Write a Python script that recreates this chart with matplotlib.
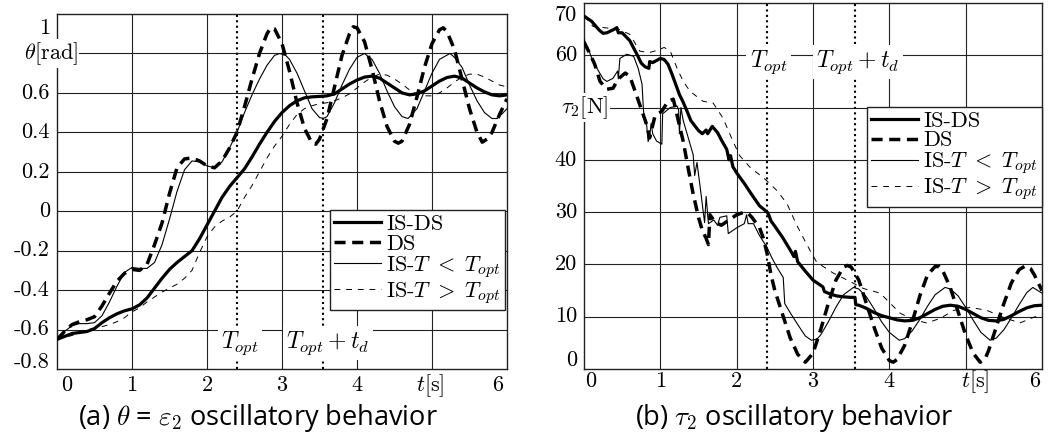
import matplotlib
matplotlib.use("Agg")
import matplotlib.pyplot as plt
import numpy as np

plt.rcParams['font.family'] = ['cmr10', 'DejaVu Serif']
plt.rcParams['mathtext.fontset'] = 'cm'
plt.rcParams['axes.unicode_minus'] = False

# ---------- (a) theta data ----------
t_isds_a = [0, 0.1, 0.2, 0.3, 0.4, 0.5, 0.6, 0.7, 0.8, 0.9, 1.0, 1.1, 1.2, 1.3, 1.4, 1.5, 1.6, 1.7, 1.8, 1.9,
            2.0, 2.1, 2.2, 2.3, 2.4, 2.5, 2.6, 2.7, 2.8, 2.9, 3.0, 3.1, 3.2, 3.3, 3.4, 3.5, 3.6, 3.7, 3.8, 3.9,
            4.0, 4.1, 4.2, 4.3, 4.4, 4.5, 4.6, 4.7, 4.8, 4.9, 5.0, 5.1, 5.2, 5.3, 5.4, 5.5, 5.6, 5.7, 5.8, 5.9, 6.0]
th_isds = [-0.65, -0.635, -0.62, -0.615, -0.61, -0.595, -0.565, -0.54, -0.52, -0.505, -0.495, -0.475, -0.44,
           -0.39, -0.34, -0.295, -0.26, -0.23, -0.2, -0.14, -0.07, 0.0, 0.07, 0.125, 0.17, 0.215, 0.275, 0.34,
           0.40, 0.455, 0.50, 0.535, 0.56, 0.575, 0.58, 0.582, 0.585, 0.595, 0.62, 0.645, 0.665, 0.68, 0.685,
           0.675, 0.65, 0.625, 0.60, 0.59, 0.595, 0.61, 0.635, 0.66, 0.678, 0.685, 0.675, 0.65, 0.625, 0.605,
           0.59, 0.585, 0.59]

t_ds_a = [0, 0.1, 0.2, 0.3, 0.4, 0.5, 0.6, 0.7, 0.8, 0.9, 1.0, 1.1, 1.2, 1.3, 1.4, 1.5, 1.6, 1.7, 1.8, 1.9,
          2.0, 2.1, 2.2, 2.3, 2.4, 2.5, 2.6, 2.7, 2.8, 2.85, 2.9, 3.0, 3.1, 3.2, 3.3, 3.4, 3.45, 3.5, 3.6, 3.7,
          3.8, 3.9, 3.95, 4.0, 4.1, 4.2, 4.3, 4.4, 4.5, 4.55, 4.6, 4.7, 4.8, 4.9, 5.0, 5.1, 5.15, 5.2, 5.3,
          5.4, 5.5, 5.6, 5.67, 5.75, 5.8, 5.9, 6.0]
th_ds = [-0.65, -0.61, -0.575, -0.56, -0.55, -0.535, -0.48, -0.415, -0.355, -0.315, -0.295, -0.30, -0.27,
         -0.17, -0.06, 0.09, 0.22, 0.265, 0.27, 0.255, 0.23, 0.22, 0.255, 0.32, 0.40, 0.53, 0.67, 0.80, 0.90,
         0.93, 0.925, 0.85, 0.71, 0.55, 0.42, 0.345, 0.34, 0.365, 0.47, 0.63, 0.79, 0.90, 0.935, 0.93, 0.86,
         0.72, 0.56, 0.43, 0.355, 0.345, 0.355, 0.44, 0.58, 0.73, 0.85, 0.92, 0.93, 0.91, 0.82, 0.67, 0.52,
         0.40, 0.35, 0.37, 0.40, 0.49, 0.57]

t_lo_a = [0, 0.1, 0.2, 0.3, 0.4, 0.5, 0.6, 0.7, 0.8, 0.9, 1.0, 1.1, 1.2, 1.3, 1.4, 1.5, 1.6, 1.7, 1.8, 1.9,
          2.0, 2.1, 2.2, 2.3, 2.4, 2.5, 2.6, 2.7, 2.8, 2.9, 2.97, 3.05, 3.1, 3.2, 3.3, 3.4, 3.5, 3.55, 3.6,
          3.7, 3.8, 3.9, 4.0, 4.1, 4.2, 4.3, 4.4, 4.5, 4.6, 4.68, 4.8, 4.9, 5.0, 5.1, 5.24, 5.3, 5.4, 5.5,
          5.6, 5.7, 5.8, 5.87, 5.95, 6.0]
th_lo = [-0.65, -0.61, -0.58, -0.57, -0.57, -0.565, -0.53, -0.46, -0.38, -0.31, -0.285, -0.29, -0.29, -0.26,
         -0.17, -0.04, 0.10, 0.21, 0.255, 0.25, 0.23, 0.22, 0.25, 0.32, 0.40, 0.50, 0.59, 0.67, 0.74, 0.79,
         0.80, 0.79, 0.77, 0.70, 0.61, 0.52, 0.475, 0.47, 0.48, 0.55, 0.64, 0.72, 0.78, 0.80, 0.77, 0.70,
         0.61, 0.53, 0.48, 0.47, 0.52, 0.61, 0.70, 0.77, 0.80, 0.78, 0.73, 0.64, 0.56, 0.50, 0.47, 0.47,
         0.50, 0.52]

t_hi_a = [0, 0.2, 0.4, 0.6, 0.7, 0.8, 0.9, 1.0, 1.1, 1.2, 1.3, 1.4, 1.5, 1.6, 1.7, 1.8, 1.9, 2.0, 2.1, 2.2,
          2.3, 2.4, 2.5, 2.6, 2.7, 2.8, 2.9, 3.0, 3.1, 3.2, 3.3, 3.4, 3.5, 3.6, 3.7, 3.8, 3.9, 4.0, 4.1, 4.2,
          4.3, 4.4, 4.5, 4.6, 4.7, 4.8, 4.9, 5.0, 5.1, 5.2, 5.3, 5.4, 5.5, 5.6, 5.7, 5.8, 5.9, 6.0]
th_hi = [-0.65, -0.63, -0.60, -0.585, -0.575, -0.56, -0.54, -0.51, -0.49, -0.46, -0.435, -0.41, -0.39, -0.37,
         -0.34, -0.30, -0.21, -0.13, -0.08, -0.05, -0.03, 0.0, 0.07, 0.13, 0.20, 0.27, 0.33, 0.38, 0.44,
         0.49, 0.52, 0.535, 0.545, 0.55, 0.56, 0.575, 0.595, 0.625, 0.655, 0.68, 0.695, 0.69, 0.67, 0.645,
         0.615, 0.595, 0.585, 0.585, 0.60, 0.625, 0.655, 0.68, 0.695, 0.695, 0.68, 0.66, 0.64, 0.63]

# ---------- (b) tau2 data ----------
t_isds_b = [0, 0.1, 0.2, 0.25, 0.3, 0.4, 0.43, 0.45, 0.5, 0.6, 0.7, 0.75, 0.8, 0.85, 0.86, 0.9, 1.0, 1.05,
            1.1, 1.15, 1.2, 1.25, 1.3, 1.35, 1.4, 1.5, 1.55, 1.6, 1.62, 1.68, 1.75, 1.8, 1.87, 1.9, 1.92, 1.95,
            2.0, 2.1, 2.2, 2.3, 2.4, 2.42, 2.45, 2.5, 2.6, 2.7, 2.75, 2.77, 2.8, 2.9, 3.0, 3.1, 3.13, 3.15,
            3.2, 3.3, 3.4, 3.5, 3.55, 3.56, 3.6, 3.7, 3.8, 3.9, 4.0, 4.1, 4.2, 4.3, 4.4, 4.5, 4.6, 4.7, 4.8,
            4.9, 5.0, 5.1, 5.2, 5.3, 5.4, 5.5, 5.6, 5.7, 5.8, 5.9, 6.0]
tau_isds = [67.5, 66.5, 64.8, 64.2, 64.3, 65.0, 65.3, 64.3, 64.3, 62.8, 60.0, 58.5, 57.8, 57.5, 58.8, 58.6,
            59.4, 59.2, 58.3, 56.5, 54.5, 52.5, 51.0, 49.3, 47.5, 45.6, 45.0, 45.7, 45.0, 46.4, 45.2, 43.8,
            42.0, 40.0, 40.8, 38.7, 37.5, 35.5, 33.3, 31.2, 30.0, 29.5, 28.3, 27.3, 25.2, 22.8, 21.5, 22.5,
            20.5, 18.7, 17.0, 16.0, 15.7, 14.8, 14.5, 14.0, 13.8, 13.7, 13.7, 12.3, 12.2, 11.6, 10.8, 10.2,
            9.8, 9.4, 9.2, 9.3, 9.8, 10.6, 11.4, 12.0, 12.2, 12.0, 11.4, 10.6, 9.8, 9.3, 9.2, 9.5, 10.2,
            11.0, 11.7, 12.1, 12.2]

t_ds_b = [0, 0.07, 0.14, 0.21, 0.3, 0.38, 0.45, 0.54, 0.6, 0.67, 0.76, 0.82, 0.86, 0.93, 1.02, 1.1, 1.17,
          1.22, 1.3, 1.37, 1.43, 1.5, 1.55, 1.6, 1.63, 1.65, 1.72, 1.8, 1.9, 2.0, 2.1, 2.15, 2.2, 2.3, 2.35,
          2.4, 2.45, 2.5, 2.6, 2.7, 2.8, 2.9, 3.0, 3.1, 3.2, 3.3, 3.4, 3.45, 3.5, 3.6, 3.7, 3.8, 3.9, 4.0,
          4.05, 4.1, 4.2, 4.3, 4.4, 4.5, 4.6, 4.65, 4.7, 4.8, 4.9, 5.0, 5.1, 5.19, 5.25, 5.3, 5.4, 5.5, 5.6,
          5.7, 5.78, 5.85, 5.9, 6.0]
tau_ds = [62.5, 60.5, 58.3, 55.0, 53.5, 53.7, 55.5, 56.6, 56.0, 53.1, 49.3, 46.8, 44.2, 48.4, 49.3, 51.2,
          51.6, 48.5, 43.5, 38.0, 33.5, 29.0, 26.5, 25.0, 23.8, 29.5, 28.0, 27.5, 28.5, 29.5, 30.0, 29.8,
          29.0, 27.0, 25.0, 22.0, 18.0, 15.0, 10.5, 6.0, 2.8, 1.3, 3.0, 7.5, 12.5, 17.0, 19.5, 19.8, 19.5,
          17.0, 12.5, 8.0, 4.0, 1.6, 1.3, 1.8, 4.5, 9.0, 14.0, 18.0, 19.6, 19.6, 18.8, 15.5, 11.0, 6.5,
          3.0, 1.3, 1.8, 3.5, 8.0, 12.5, 16.5, 19.0, 19.7, 19.2, 18.0, 15.0]

t_lo_b = [0, 0.05, 0.1, 0.17, 0.25, 0.3, 0.38, 0.44, 0.45, 0.47, 0.56, 0.65, 0.71, 0.76, 0.78, 0.8, 0.82,
          0.84, 0.86, 0.88, 0.9, 0.95, 1.02, 1.03, 1.13, 1.22, 1.24, 1.25, 1.27, 1.3, 1.39, 1.43, 1.45, 1.48,
          1.52, 1.56, 1.58, 1.6, 1.63, 1.7, 1.75, 1.78, 1.87, 1.89, 2.0, 2.1, 2.13, 2.15, 2.22, 2.3, 2.4,
          2.46, 2.53, 2.61, 2.63, 2.7, 2.8, 2.9, 2.98, 3.05, 3.1, 3.2, 3.3, 3.4, 3.53, 3.6, 3.7, 3.8, 3.9,
          4.0, 4.13, 4.2, 4.3, 4.4, 4.5, 4.6, 4.73, 4.8, 4.9, 5.0, 5.1, 5.2, 5.32, 5.4, 5.5, 5.6, 5.7, 5.8,
          5.88, 6.0]
tau_lo = [63.0, 61.5, 59.5, 57.5, 55.5, 55.0, 55.6, 57.0, 55.5, 59.4, 60.2, 59.8, 57.5, 54.5, 49.3, 47.0,
          46.8, 43.5, 44.5, 47.0, 45.0, 43.6, 43.0, 48.8, 50.0, 50.3, 49.5, 45.0, 50.0, 47.5, 43.0, 41.0,
          37.0, 39.5, 35.0, 30.3, 28.0, 33.0, 27.8, 28.5, 27.5, 29.0, 29.3, 25.9, 27.0, 27.8, 29.5, 27.8,
          27.8, 25.5, 23.2, 21.3, 19.4, 17.5, 12.5, 10.8, 8.5, 6.3, 5.5, 5.7, 6.5, 9.0, 11.8, 14.2, 15.6,
          15.3, 13.8, 11.5, 9.0, 7.0, 5.5, 5.8, 7.3, 9.5, 12.0, 14.2, 15.6, 15.3, 14.0, 11.8, 9.3, 7.0, 5.5,
          5.9, 7.5, 9.8, 12.3, 14.6, 15.6, 14.5]

t_hi_b = [0, 0.12, 0.25, 0.38, 0.45, 0.6, 0.73, 0.85, 0.97, 1.05, 1.13, 1.22, 1.3, 1.39, 1.56, 1.69, 1.82,
          1.95, 2.04, 2.18, 2.35, 2.53, 2.66, 2.79, 2.96, 3.05, 3.27, 3.45, 3.66, 3.88, 4.14, 4.3, 4.49, 4.67,
          4.84, 5.06, 5.28, 5.49, 5.71, 5.89, 6.0]
tau_hi = [67.5, 65.5, 65.3, 65.1, 65.0, 64.0, 60.8, 60.5, 61.0, 61.5, 60.8, 57.5, 55.0, 53.1, 51.2, 50.9,
          48.0, 43.6, 40.8, 38.5, 36.6, 34.1, 31.6, 27.4, 22.7, 20.4, 18.3, 17.0, 15.4, 14.5, 10.7, 9.5,
          8.8, 9.7, 11.2, 11.8, 11.2, 9.9, 8.8, 9.9, 10.3]

legend_labels = ['IS-DS', 'DS', r'IS-$T\ <\ T_{opt}$', r'IS-$T\ >\ T_{opt}$']
t_opt = 2.4
t_opt_td = 3.55

# ---------- figure ----------
fig = plt.figure(figsize=(10.51, 4.46), dpi=100)
ax1 = fig.add_axes([57 / 1051, 1 - 369 / 446, 450 / 1051, 355 / 446])
ax2 = fig.add_axes([584 / 1051, 1 - 369 / 446, 458 / 1051, 366 / 446])

fs = 16


def style_lines(ax, series):
    (t1, y1), (t2, y2), (t3, y3), (t4, y4) = series
    ax.plot(t1, y1, color='black', lw=2.3, label=legend_labels[0], zorder=5)
    ax.plot(t2, y2, color='black', lw=2.5, dashes=(3.2, 1.9), label=legend_labels[1], zorder=4)
    ax.plot(t3, y3, color='black', lw=0.8, label=legend_labels[2], zorder=3)
    ax.plot(t4, y4, color='black', lw=0.7, dashes=(6, 6), label=legend_labels[3], zorder=3)
    for xv in (t_opt, t_opt_td):
        ax.axvline(xv, color='black', lw=1.5, linestyle=(0, (1, 1.6)), zorder=2)


def frame(ax, ylim, yticks):
    ax.set_xlim(0, 6)
    ax.set_ylim(*ylim)
    ax.set_xticks([1, 2, 3, 4, 5])
    ax.set_yticks(yticks)
    ax.tick_params(length=0, labelbottom=False, labelleft=False)
    ax.grid(True, color='#222222', lw=0.8)
    ax.set_axisbelow(True)
    for s in ax.spines.values():
        s.set_linewidth(1.0)
        s.set_color('#222222')


def ylab(ax, text, val, dx=-5, dy=0, ha='right', box=False):
    kw = dict(bbox=dict(facecolor='white', edgecolor='none', pad=1)) if box else {}
    ax.annotate(text, xy=(0, val), xycoords=('axes fraction', 'data'), xytext=(dx, dy),
                textcoords='offset points', ha=ha, va='center', fontsize=fs, zorder=10,
                annotation_clip=False, **kw)


def xlab(ax, text, val, dx=0, dy=-13):
    ax.annotate(text, xy=(val, 0), xycoords=('data', 'axes fraction'), xytext=(dx, dy),
                textcoords='offset points', ha='center', va='center', fontsize=fs, annotation_clip=False)


def legend(ax, **kw):
    leg = ax.legend(fontsize=fs, frameon=True, fancybox=False, framealpha=1, edgecolor='#222222',
                    handlelength=2.1, handletextpad=0.25, labelspacing=0.0, borderpad=0.2,
                    borderaxespad=0, **kw)
    leg.get_frame().set_linewidth(1.0)
    leg.set_zorder(20)


# (a)
style_lines(ax1, [(t_isds_a, th_isds), (t_ds_a, th_ds), (t_lo_a, th_lo), (t_hi_a, th_hi)])
frame(ax1, (-0.8, 1.0), [-0.6, -0.4, -0.2, 0, 0.2, 0.4, 0.6, 0.8])
for v, s in zip([-0.6, -0.4, -0.2, 0, 0.2, 0.4, 0.6], ['-0.6', '-0.4', '-0.2', '0', '0.2', '0.4', '0.6']):
    ylab(ax1, s, v)
ylab(ax1, '1', 1.0, dy=-10)
ylab(ax1, '-0.8', -0.8, dy=5)
ylab(ax1, r'$\theta$[rad]', 0.8, dx=15, box=True)
for v in [1, 2, 3, 4]:
    xlab(ax1, str(v), v, dy=-12)
xlab(ax1, '0', 0, dx=7, dy=-12)
xlab(ax1, '6', 6, dx=-7, dy=-12)
xlab(ax1, r'$t$[s]', 4.97, dy=-12)
box = dict(facecolor='white', edgecolor='none', pad=2.5)
ax1.text(2.44, -0.668, r'$T_{opt}$', fontsize=17, ha='center', va='center', bbox=box, zorder=6)
ax1.text(3.61, -0.668, r'$T_{opt}+t_d$', fontsize=17, ha='center', va='center', bbox=box, zorder=6)
legend(ax1, loc='lower right', bbox_to_anchor=(0.996, 0.166))

# (b)
style_lines(ax2, [(t_isds_b, tau_isds), (t_ds_b, tau_ds), (t_lo_b, tau_lo), (t_hi_b, tau_hi)])
frame(ax2, (0, 70), [10, 20, 30, 40, 50, 60])
for v in [10, 20, 30, 40, 60]:
    ylab(ax2, str(v), v)
ylab(ax2, '70', 70, dy=-9)
ylab(ax2, '0', 0, dy=6)
ylab(ax2, r'$\tau_2$[N]', 50, dx=17.5, box=True)
for v in [1, 2, 3, 4]:
    xlab(ax2, str(v), v, dy=-9)
xlab(ax2, '0', 0, dx=5, dy=-9)
xlab(ax2, '6', 6, dx=-5, dy=-9)
xlab(ax2, r'$t$[s]', 5.12, dy=-9)
ax2.text(2.42, 58.7, r'$T_{opt}$', fontsize=17, ha='center', va='center', bbox=box, zorder=6)
ax2.text(3.59, 58.7, r'$T_{opt}+t_d$', fontsize=17, ha='center', va='center', bbox=box, zorder=6)
legend(ax2, loc='upper right', bbox_to_anchor=(1.0, 0.716))

# captions
cap = ['Open Sans', 'DejaVu Sans']
fig.text(258 / 1051, 1 - 418 / 446, r'(a) $\theta$ = $\varepsilon_2$ oscillatory behavior',
         family=cap, fontsize=19.5, ha='center', va='center')
fig.text(794 / 1051, 1 - 418 / 446, r'(b) $\tau_2$ oscillatory behavior',
         family=cap, fontsize=19.5, ha='center', va='center')

fig.savefig('out.png', dpi=100)
